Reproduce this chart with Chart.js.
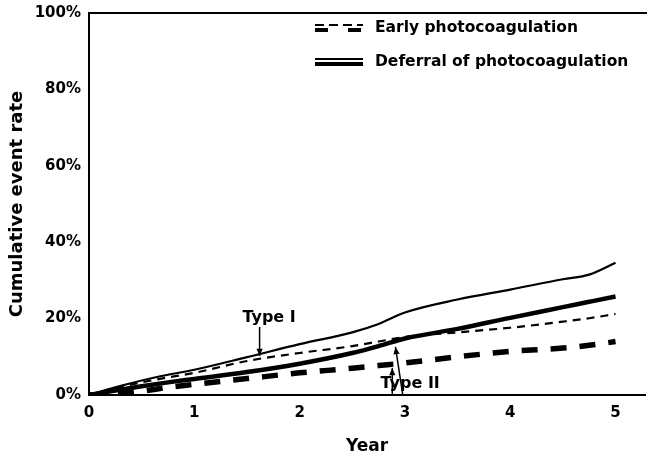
<!DOCTYPE html>
<html lang="en">
<head>
  <meta charset="UTF-8" />
  <title>Cumulative event rate</title>
  <script src="https://cdn.jsdelivr.net/npm/chart.js"></script>
  <style>
    html, body { margin: 0; padding: 0; background: #fff; }
    #wrap { width: 647px; height: 461px; }
  </style>
</head>
<body>
  <div id="wrap"><canvas id="chart"></canvas></div>

  <script>
    // years (x values) and cumulative event rates in %
    const years = [0, 0.25, 0.5, 0.75, 1, 1.5, 2, 2.5, 2.75, 3, 3.5, 4, 4.5, 4.75, 5];
    const deferralThin  = [0, 2.0, 3.8, 5.3, 6.6, 9.9, 13.3, 16.4, 18.6, 21.6, 25.0, 27.6, 30.3, 31.5, 34.6];
    const deferralThick = [0, 1.2, 2.3, 3.3, 4.2, 6.0, 8.2, 11.0, 12.8, 14.8, 17.3, 20.2, 23.0, 24.4, 25.8];
    const earlyThin     = [0, 1.8, 3.3, 4.6, 5.8, 8.9, 11.0, 12.8, 14.0, 15.2, 16.4, 17.6, 19.2, 20.1, 21.2];
    const earlyThick    = [0, 0.3, 1.0, 2.0, 2.8, 4.3, 5.8, 7.0, 7.7, 8.4, 10.0, 11.4, 12.3, 13.0, 14.0];

    const xTicks = [0, 1, 2, 3, 4, 5];
    const yTicks = [0, 20, 40, 60, 80, 100];
    const legendLabels = ['Early photocoagulation', 'Deferral of photocoagulation'];

    const toPoints = vals => vals.map((v, i) => ({ x: years[i], y: v }));

    Chart.defaults.font.family = "'DejaVu Sans', sans-serif";
    Chart.defaults.font.weight = 'bold';
    Chart.defaults.color = '#000';

    function arrow(ctx, x1, y1, x2, y2) {
      ctx.beginPath();
      ctx.moveTo(x1, y1);
      ctx.lineTo(x2, y2);
      ctx.stroke();
      const a = Math.atan2(y2 - y1, x2 - x1);
      ctx.beginPath();
      ctx.moveTo(x2, y2);
      ctx.lineTo(x2 - 8 * Math.cos(a - 0.4), y2 - 8 * Math.sin(a - 0.4));
      ctx.lineTo(x2 - 8 * Math.cos(a + 0.4), y2 - 8 * Math.sin(a + 0.4));
      ctx.closePath();
      ctx.fill();
    }

    const extras = {
      id: 'extras',
      afterDraw(chart) {
        const { ctx, chartArea, scales } = chart;
        const px = v => scales.x.getPixelForValue(v);
        const py = v => scales.y.getPixelForValue(v);
        ctx.save();
        ctx.strokeStyle = '#000';
        ctx.fillStyle = '#000';

        // top frame line
        ctx.lineWidth = 2;
        ctx.beginPath();
        ctx.moveTo(chartArea.left, chartArea.top);
        ctx.lineTo(chart.width, chartArea.top);
        ctx.stroke();

        // legend
        ctx.lineWidth = 2;
        ctx.setLineDash([9, 5]);
        ctx.beginPath(); ctx.moveTo(315, 25); ctx.lineTo(363, 25); ctx.stroke();
        ctx.lineWidth = 4;
        ctx.setLineDash([13, 20]);
        ctx.beginPath(); ctx.moveTo(315, 30); ctx.lineTo(363, 30); ctx.stroke();
        ctx.setLineDash([]);
        ctx.lineWidth = 2;
        ctx.beginPath(); ctx.moveTo(315, 59); ctx.lineTo(363, 59); ctx.stroke();
        ctx.lineWidth = 4;
        ctx.beginPath(); ctx.moveTo(315, 64); ctx.lineTo(363, 64); ctx.stroke();

        ctx.font = "bold 15.5px 'DejaVu Sans'";
        ctx.textBaseline = 'middle';
        ctx.textAlign = 'left';
        ctx.fillText(legendLabels[0], 375, 28);
        ctx.fillText(legendLabels[1], 375, 62);

        // annotations
        ctx.font = "bold 16px 'DejaVu Sans'";
        ctx.textAlign = 'center';
        ctx.fillText('Type I', px(1.71), py(20.3));
        ctx.fillText('Type II', px(3.05), py(2.9));
        ctx.lineWidth = 1.5;
        arrow(ctx, px(1.62), py(17.8), px(1.62), py(10.2));
        arrow(ctx, px(2.98), py(0), px(2.91), py(12.6));
        arrow(ctx, px(2.88), py(0), px(2.88), py(7.1));
        ctx.restore();
      }
    };

    new Chart(document.getElementById('chart'), {
      type: 'line',
      data: {
        datasets: [
          { data: toPoints(deferralThin), borderWidth: 2.2, borderDash: [] },
          { data: toPoints(deferralThick), borderWidth: 4.5, borderDash: [] },
          { data: toPoints(earlyThin), borderWidth: 2.2, borderDash: [8, 6] },
          { data: toPoints(earlyThick), borderWidth: 5.5, borderDash: [16, 13] }
        ].map(d => Object.assign(d, {
          borderColor: '#000',
          pointRadius: 0,
          tension: 0.3,
          cubicInterpolationMode: 'monotone',
          fill: false
        }))
      },
      options: {
        responsive: true,
        maintainAspectRatio: false,
        animation: false,
        layout: { padding: { top: 13, right: 2, left: 0, bottom: 0 } },
        plugins: { legend: { display: false }, tooltip: { enabled: false } },
        scales: {
          x: {
            type: 'linear',
            min: 0,
            max: 5.28,
            afterBuildTicks: s => { s.ticks = xTicks.map(v => ({ value: v })); },
            afterFit: s => { s.height = 66; },
            grid: { display: false },
            border: { display: true, color: '#000', width: 2 },
            ticks: { font: { size: 15 }, padding: 1, maxRotation: 0 },
            title: { display: true, text: 'Year', font: { size: 17 }, padding: { top: 22 } }
          },
          y: {
            min: 0,
            max: 100,
            afterBuildTicks: s => { s.ticks = yTicks.map(v => ({ value: v })); },
            afterFit: s => { s.width = 89; },
            grid: { display: false },
            border: { display: true, color: '#000', width: 2 },
            ticks: { font: { size: 15 }, padding: 0, callback: v => v + '%' },
            title: { display: true, text: 'Cumulative event rate', font: { size: 18 }, padding: { top: 7, bottom: 0 } }
          }
        }
      },
      plugins: [extras]
    });
  </script>
</body>
</html>
